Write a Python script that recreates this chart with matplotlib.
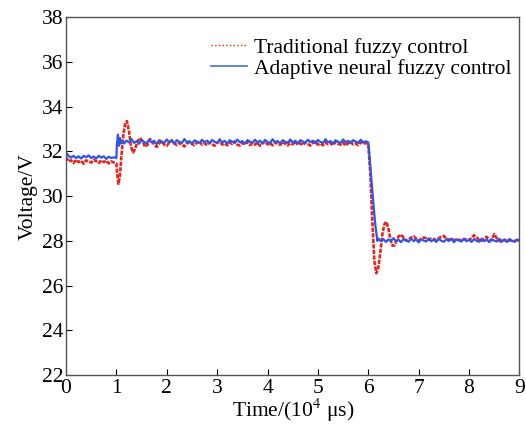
import numpy as np
import matplotlib
matplotlib.use("Agg")
import matplotlib.pyplot as plt
from matplotlib.lines import Line2D

plt.rcParams['font.family'] = ['Liberation Serif', 'DejaVu Serif']
plt.rcParams['mathtext.fontset'] = 'stix'

# ---- Adaptive neural fuzzy control (blue) ----
blue_t1 = np.round(np.arange(0.0, 0.951, 0.05), 3)
blue_v1 = [31.95, 31.80, 31.72, 31.80, 31.70, 31.78, 31.68, 31.80, 31.74, 31.82,
           31.70, 31.77, 31.68, 31.80, 31.72, 31.78, 31.66, 31.76, 31.70, 31.74]
blue_t2 = [1.0, 1.01, 1.03, 1.05, 1.07, 1.09]
blue_v2 = [31.7, 32.3, 32.75, 32.25, 32.6, 32.35]
blue_t3 = np.round(np.arange(1.1, 5.951, 0.05), 3)
blue_v3 = [32.50, 32.35, 32.48, 32.40, 32.55, 32.38, 32.46, 32.34, 32.50, 32.42,
           32.36, 32.52, 32.40, 32.47, 32.33, 32.50, 32.44, 32.38, 32.53, 32.41,
           32.47, 32.35, 32.50, 32.42, 32.38, 32.55, 32.40, 32.46, 32.34, 32.49,
           32.43, 32.37, 32.52, 32.40, 32.48, 32.36, 32.51, 32.42, 32.38, 32.54,
           32.40, 32.47, 32.35, 32.50, 32.43, 32.37, 32.53, 32.41, 32.46, 32.34,
           32.50, 32.44, 32.38, 32.52, 32.40, 32.48, 32.35, 32.51, 32.42, 32.37,
           32.54, 32.41, 32.46, 32.36, 32.50, 32.43, 32.38, 32.53, 32.40, 32.47,
           32.35, 32.50, 32.44, 32.37, 32.52, 32.41, 32.48, 32.36, 32.51, 32.42,
           32.38, 32.54, 32.40, 32.46, 32.35, 32.50, 32.43, 32.37, 32.53, 32.41,
           32.47, 32.36, 32.50, 32.44, 32.38, 32.52, 32.40, 32.45]
blue_t4 = [6.0, 6.02, 6.06, 6.1, 6.14, 6.18]
blue_v4 = [32.4, 31.9, 30.8, 29.7, 28.7, 28.0]
blue_t5 = np.round(np.arange(6.2, 9.001, 0.05), 3)
blue_v5 = [28.10, 27.98, 28.08, 27.95, 28.06, 28.00, 28.12, 27.97, 28.05, 27.94,
           28.08, 28.02, 27.96, 28.10, 27.99, 28.06, 27.93, 28.08, 28.01, 27.97,
           28.11, 27.98, 28.05, 27.95, 28.09, 28.00, 27.96, 28.07, 27.99, 28.10,
           27.94, 28.06, 28.01, 27.97, 28.09, 27.98, 28.05, 27.95, 28.08, 28.00,
           27.96, 28.10, 27.98, 28.06, 27.94, 28.07, 28.01, 27.97, 28.09, 27.99,
           28.04, 27.95, 28.08, 28.00, 27.97, 28.06, 28.02]

# ---- Traditional fuzzy control (red) ----
red_t1 = np.round(np.arange(0.0, 0.951, 0.05), 3)
red_v1 = [31.75, 31.55, 31.60, 31.48, 31.62, 31.52, 31.58, 31.45, 31.60, 31.55,
          31.50, 31.62, 31.56, 31.48, 31.60, 31.52, 31.58, 31.46, 31.55, 31.50]
red_t2 = [1.0, 1.02, 1.04, 1.07, 1.1, 1.14, 1.18, 1.21, 1.25, 1.29, 1.33, 1.37,
          1.42, 1.47, 1.52, 1.57, 1.62, 1.67, 1.72]
red_v2 = [31.45, 30.9, 30.55, 30.9, 31.8, 32.8, 33.3, 33.35, 32.9, 32.2, 31.95, 32.1,
          32.45, 32.6, 32.45, 32.2, 32.3, 32.55, 32.4]
red_t3 = np.round(np.arange(1.75, 5.951, 0.05), 3)
red_v3 = [32.30, 32.20, 32.35, 32.45, 32.30, 32.25, 32.40, 32.50, 32.35, 32.28,
          32.38, 32.30, 32.22, 32.35, 32.42, 32.33, 32.27, 32.40, 32.45, 32.30,
          32.36, 32.28, 32.40, 32.32, 32.25, 32.38, 32.44, 32.30, 32.35, 32.27,
          32.40, 32.33, 32.45, 32.30, 32.26, 32.38, 32.32, 32.42, 32.28, 32.35,
          32.30, 32.40, 32.25, 32.36, 32.44, 32.31, 32.37, 32.27, 32.40, 32.34,
          32.29, 32.42, 32.35, 32.26, 32.38, 32.31, 32.45, 32.30, 32.36, 32.28,
          32.40, 32.33, 32.26, 32.38, 32.43, 32.30, 32.35, 32.27, 32.40, 32.32,
          32.37, 32.28, 32.42, 32.34, 32.30, 32.39, 32.26, 32.36, 32.44, 32.31,
          32.35, 32.28, 32.40, 32.33, 32.38]
red_t4 = [6.0, 6.04, 6.08, 6.12, 6.16, 6.2, 6.24, 6.28, 6.32, 6.36, 6.4, 6.44,
          6.48, 6.52, 6.56, 6.6, 6.64, 6.68, 6.72, 6.76]
red_v4 = [32.3, 31.0, 28.9, 27.1, 26.55, 26.8, 27.5, 28.3, 28.75, 28.85, 28.55, 28.05,
          27.78, 27.8, 28.0, 28.2, 28.28, 28.2, 28.08, 28.0]
red_t5 = np.round(np.arange(6.8, 9.001, 0.05), 3)
red_v5 = [28.05, 28.15, 28.20, 28.10, 28.02, 28.08, 28.15, 28.12, 28.05, 28.10,
          28.08, 28.04, 28.12, 28.18, 28.22, 28.10, 28.05, 28.08, 28.03, 28.07,
          28.05, 28.02, 28.08, 28.06, 28.04, 28.12, 28.25, 28.15, 28.05, 28.00,
          28.10, 28.18, 28.05, 28.02, 28.30, 28.12, 28.00, 27.95, 28.05, 28.02,
          28.00, 28.06, 27.96, 28.04, 28.00]

x_ticks = [0, 1, 2, 3, 4, 5, 6, 7, 8, 9]
y_ticks = [22, 24, 26, 28, 30, 32, 34, 36, 38]
labels = ['Traditional fuzzy control', 'Adaptive neural fuzzy control']

red_t = np.concatenate([red_t1, red_t2, red_t3, red_t4, red_t5])
red_v = np.concatenate([red_v1, red_v2, red_v3, red_v4, red_v5])
blue_t = np.concatenate([blue_t1, blue_t2, blue_t3, blue_t4, blue_t5])
blue_v = np.concatenate([blue_v1, blue_v2, blue_v3, blue_v4, blue_v5])

fig = plt.figure(figsize=(5.26, 4.25), dpi=100)
ax = fig.add_axes([0.1255, 0.1176, 0.862, 0.842])

red_c = '#e8231d'
blue_c = '#2f55e4'
ax.plot(red_t, red_v, color=red_c, lw=1.9, linestyle=(0, (1.6, 0.5)))
ax.plot(blue_t, blue_v, color=blue_c, lw=1.6)

ax.set_xlim(0, 9)
ax.set_ylim(22, 38)
ax.set_xticks(x_ticks)
ax.set_yticks(y_ticks)
ax.tick_params(direction='in', labelsize=15.5, length=4, width=0.8, pad=2)
ax.tick_params(axis='x', pad=3)
for s in ax.spines.values():
    s.set_color('#555555')
    s.set_linewidth(1.0)

ax.set_xlabel('Time/(10$^4$ μs)', fontsize=15.5, labelpad=-1)
ax.set_ylabel('Voltage/V', fontsize=15.5, labelpad=3)

handles = [Line2D([], [], color=red_c, lw=1.0, linestyle=':'),
           Line2D([], [], color='#4a6cd6', lw=1.2)]
ax.legend(handles, labels, loc='upper right', frameon=False, fontsize=15.5,
          handlelength=1.7, handletextpad=0.3, labelspacing=0.05,
          bbox_to_anchor=(1.015, 0.985), borderaxespad=0.3)

fig.savefig('out.png', dpi=100)
